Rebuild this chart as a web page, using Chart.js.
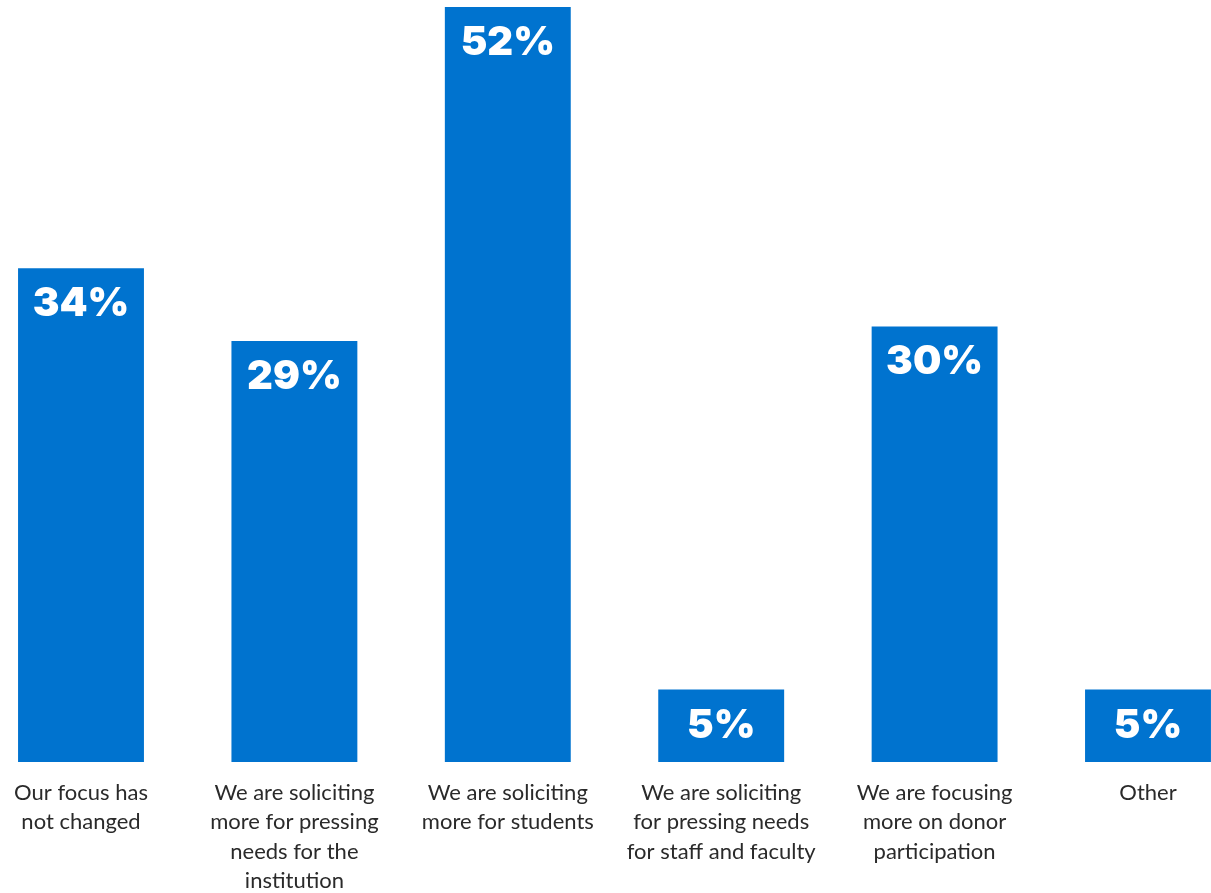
<!DOCTYPE html>
<html>
<head>
<meta charset="utf-8">
<script src="https://cdn.jsdelivr.net/npm/chart.js@4"></script>
<style>
  html, body { margin: 0; padding: 0; background: #fff; overflow: hidden; }
  #wrap { width: 1211px; height: 904px; position: relative; }
</style>
</head>
<body>
<div id="wrap"><canvas id="chart"></canvas></div>
<script>
const categories = [
  ['Our focus has', 'not changed'],
  ['We are soliciting', 'more for pressing', 'needs for the', 'institution'],
  ['We are soliciting', 'more for students'],
  ['We are soliciting', 'for pressing needs', 'for staff and faculty'],
  ['We are focusing', 'more on donor', 'participation'],
  ['Other']
];
const values = [34, 29, 52, 5, 30, 5];

// white percentage labels near the top of each bar
const barLabels = {
  id: 'barLabels',
  afterDatasetsDraw(chart) {
    const ctx = chart.ctx;
    const meta = chart.getDatasetMeta(0);
    ctx.save();
    ctx.fillStyle = '#ffffff';
    ctx.font = '900 40px Inter';
    ctx.textAlign = 'center';
    ctx.textBaseline = 'middle';
    meta.data.forEach((bar, i) => {
      ctx.fillText(values[i] + '%', bar.x, bar.y + 36);
    });
    ctx.restore();
  }
};

new Chart(document.getElementById('chart'), {
  type: 'bar',
  data: {
    labels: categories,
    datasets: [{
      data: values,
      backgroundColor: '#0073CF',
      categoryPercentage: 1,
      barPercentage: 0.59,
      clip: false
    }]
  },
  options: {
    responsive: true,
    maintainAspectRatio: false,
    animation: false,
    layout: { padding: { left: 81, right: 63, top: 7, bottom: 0 } },
    plugins: { legend: { display: false }, tooltip: { enabled: false } },
    scales: {
      x: {
        offset: false,
        grid: { display: false },
        border: { display: false },
        ticks: {
          color: '#2a2a2a',
          font: { family: 'Lato', size: 22, lineHeight: 1.34 },
          padding: 8,
          maxRotation: 0,
          autoSkip: false
        }
      },
      y: {
        display: false,
        min: 0,
        max: 52
      }
    }
  },
  plugins: [barLabels]
});
</script>
</body>
</html>
